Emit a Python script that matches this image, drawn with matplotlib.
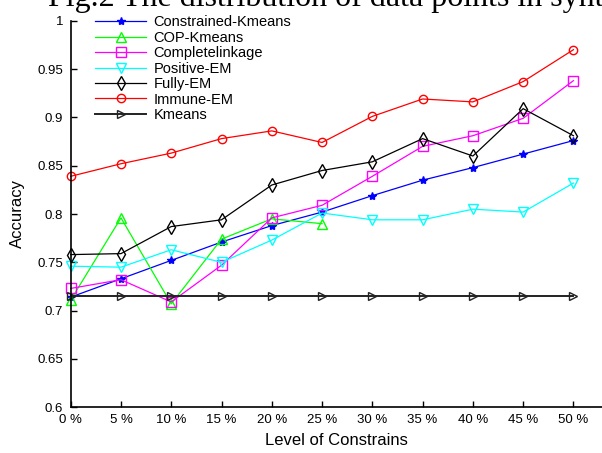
import numpy as np
import matplotlib
matplotlib.use("Agg")
import matplotlib.pyplot as plt

levels = [0, 5, 10, 15, 20, 25, 30, 35, 40, 45, 50]
tick_labels = ["0 %", "5 %", "10 %", "15 %", "20 %", "25 %", "30 %", "35 %", "40 %", "45 %", "50 %"]

constrained_kmeans = [0.714, 0.733, 0.752, 0.771, 0.788, 0.802, 0.819, 0.835, 0.848, 0.862, 0.876]
cop_kmeans = [0.711, 0.796, 0.707, 0.774, 0.795, 0.790]
complete_linkage = [0.723, 0.732, 0.709, 0.747, 0.796, 0.809, 0.839, 0.870, 0.881, 0.899, 0.938]
positive_em = [0.746, 0.745, 0.763, 0.750, 0.773, 0.801, 0.794, 0.794, 0.805, 0.802, 0.832]
fully_em = [0.758, 0.759, 0.787, 0.794, 0.830, 0.845, 0.854, 0.878, 0.860, 0.909, 0.881]
immune_em = [0.839, 0.852, 0.863, 0.878, 0.886, 0.874, 0.901, 0.919, 0.916, 0.937, 0.970]
kmeans = [0.7155] * 11

plt.rcParams['font.family'] = ['Liberation Sans', 'DejaVu Sans']

fig = plt.figure(figsize=(6.02, 4.53), dpi=100)
ax = fig.add_axes([70.7 / 602, 1 - 407.3 / 453, 1 - 70.7 / 602, (407.3 - 20.7) / 453])

ax.plot(levels, constrained_kmeans, color='blue', marker='*', ms=6, lw=0.9,
        label='Constrained-Kmeans', clip_on=False)
ax.plot(levels[:len(cop_kmeans)], cop_kmeans, color=(0, 1, 0), marker='^', ms=6.5, mfc='none',
        lw=0.9, label='COP-Kmeans', clip_on=False)
ax.plot(levels, complete_linkage, color='magenta', marker='s', ms=6.5, mfc='none', lw=0.9,
        label='Completelinkage', clip_on=False)
ax.plot(levels, positive_em, color='cyan', marker='v', ms=6.5, mfc='none', lw=0.9,
        label='Positive-EM', clip_on=False)
ax.plot(levels, fully_em, color='black', marker='d', ms=7, mfc='none', lw=0.9,
        label='Fully-EM', clip_on=False)
ax.plot(levels, immune_em, color='red', marker='o', ms=6, mfc='none', lw=0.9,
        label='Immune-EM', clip_on=False)
ax.plot(levels, kmeans, color='#222222', marker='>', ms=6, mfc='none', lw=1.4,
        label='Kmeans', clip_on=False)

ax.set_xlim(0, 52.84)
ax.set_ylim(0.6, 1.0)
ax.set_xticks(levels)
ax.set_xticklabels(tick_labels)
ax.set_yticks([0.6, 0.65, 0.7, 0.75, 0.8, 0.85, 0.9, 0.95, 1.0])
ax.set_yticklabels(["0.6", "0.65", "0.7", "0.75", "0.8", "0.85", "0.9", "0.95", "1"])
ax.tick_params(direction='in', length=4, width=1, labelsize=9.5)
ax.tick_params(axis='x', pad=5)
ax.tick_params(axis='y', pad=5.5)
ax.spines['top'].set_visible(False)
ax.spines['right'].set_visible(False)
ax.spines['left'].set_linewidth(1.2)
ax.spines['bottom'].set_linewidth(1.2)
ax.set_xlabel('Level of Constrains', fontsize=12, labelpad=5)
ax.set_ylabel('Accuracy', fontsize=12, labelpad=9)

ax.legend(loc='upper left', bbox_to_anchor=(88 / 602, 1 - 8 / 453),
          bbox_transform=fig.transFigure, frameon=False, fontsize=10.5,
          handlelength=3.5, handletextpad=0.5, labelspacing=0.1, borderpad=0)

fig.text(48 / 602, 1 - 6 / 453, "Fig.2 The distribution of data points in synt",
         family='Liberation Serif', fontsize=23, va='baseline', ha='left')

fig.savefig('out.png', dpi=100)
